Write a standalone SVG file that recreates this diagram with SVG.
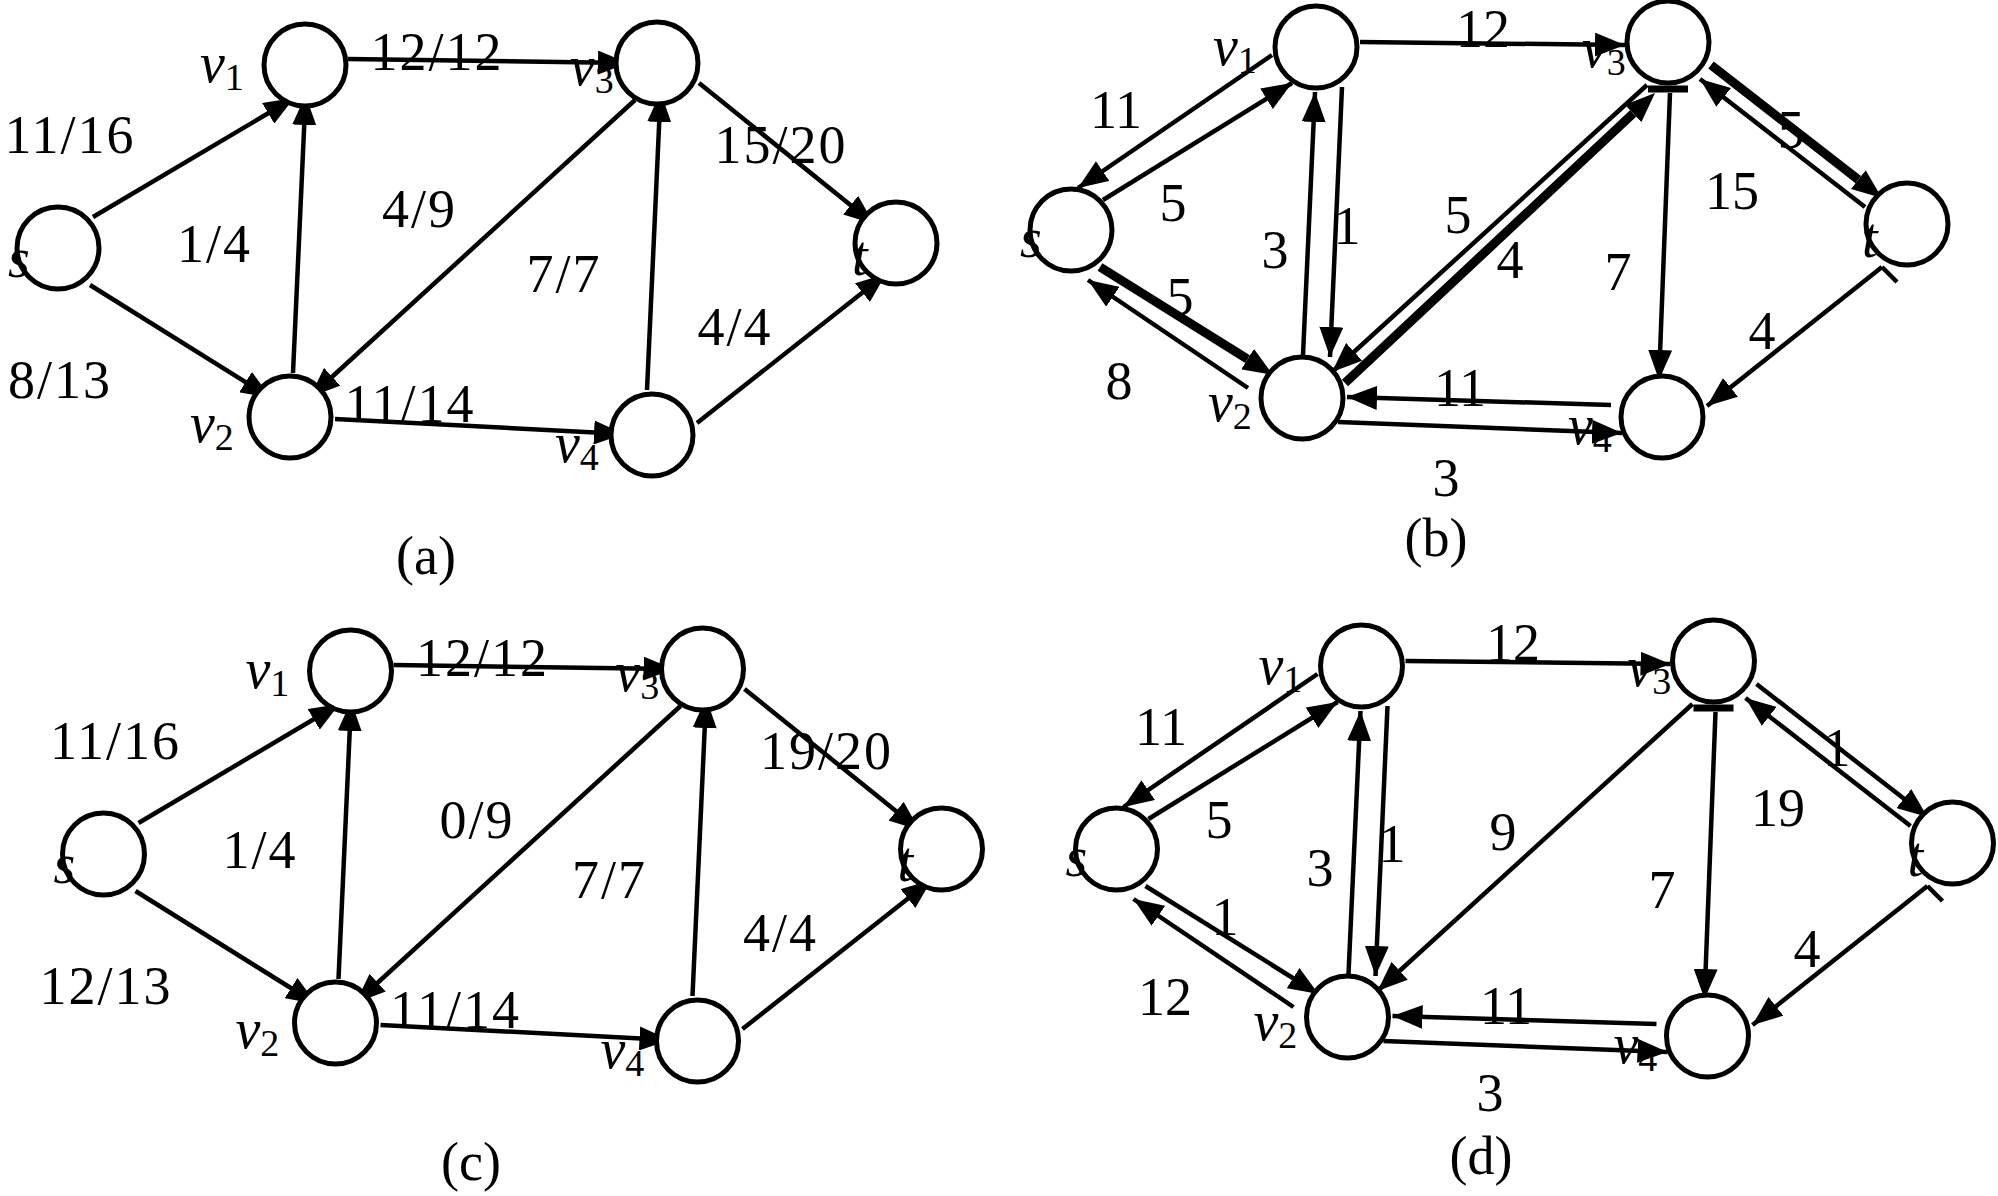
<svg xmlns="http://www.w3.org/2000/svg" width="1998" height="1196" viewBox="0 0 1998 1196">
<style>
.e{fill:none;stroke:#000;stroke-width:4.5;marker-end:url(#ah)}
.th{fill:none;stroke:#000;stroke-width:9;marker-end:url(#ahb)}
.pl{fill:none;stroke:#000;stroke-width:4.5}
.bar{fill:none;stroke:#000;stroke-width:7}
.n{fill:#fff;stroke:#000;stroke-width:5}
.lbl{font-family:'Liberation Serif','Times New Roman',serif;font-size:54px;text-anchor:middle;fill:#000}
.fr{letter-spacing:2px}
.nl{font-family:'Liberation Serif','Times New Roman',serif;font-size:56px;font-style:italic;fill:#000}
.sub{font-size:38px;font-style:normal}
</style>
<defs>
<marker id="ah" markerUnits="userSpaceOnUse" viewBox="0 0 30 24" markerWidth="30" markerHeight="24" refX="30" refY="12" orient="auto"><path d="M0,0 L30,12 L0,24 z" fill="#000"/></marker>
<marker id="ahb" markerUnits="userSpaceOnUse" viewBox="0 0 30 24" markerWidth="30" markerHeight="24" refX="0" refY="12" orient="auto"><path d="M0,0 L30,12 L0,24 z" fill="#000"/></marker>
</defs>
<rect width="1998" height="1196" fill="#fff"/>

<!-- Panel (a) -->
<g id="panel-a">
<g id="a-edge-labels" class="lbl fr">
<text x="437" y="70">12/12</text>
<text x="70" y="153">11/16</text>
<text x="60" y="398">8/13</text>
<text x="214.5" y="262">1/4</text>
<text x="419.5" y="227">4/9</text>
<text x="410" y="422">11/14</text>
<text x="564" y="292">7/7</text>
<text x="781" y="163">15/20</text>
<text x="735" y="345">4/4</text>
</g>
<g id="a-edges">
<path class="e" d="M93,217 L294,98"/>
<path class="e" d="M90,285 L271,398"/>
<path class="e" d="M293,373 L305.6,95"/>
<path class="e" d="M635,100 L310,397"/>
<path class="e" d="M348,59 L628,63"/>
<path class="e" d="M335,419 L624,434"/>
<path class="e" d="M647,390 L660.6,92"/>
<path class="e" d="M699,83 L874,224"/>
<path class="e" d="M697,423 L886,274"/>
</g>
<g id="a-s"><circle class="n" cx="58" cy="248" r="41"/><text class="nl" x="8" y="277">s</text></g>
<g id="a-v1"><circle class="n" cx="305" cy="65" r="41"/><text class="nl" x="200" y="82">v<tspan class="sub" dy="8">1</tspan></text></g>
<g id="a-v2"><circle class="n" cx="290" cy="417" r="41"/><text class="nl" x="190" y="442">v<tspan class="sub" dy="8">2</tspan></text></g>
<g id="a-v3"><circle class="n" cx="657" cy="63" r="41"/><text class="nl" x="570" y="85">v<tspan class="sub" dy="8">3</tspan></text></g>
<g id="a-v4"><circle class="n" cx="652" cy="435" r="41"/><text class="nl" x="555" y="462">v<tspan class="sub" dy="8">4</tspan></text></g>
<g id="a-t"><circle class="n" cx="896" cy="243" r="41"/><text class="nl" x="852" y="275">t</text></g>
<text class="lbl" x="426" y="574">(a)</text>
</g>

<!-- Panel (c) -->
<g id="panel-c" transform="translate(45.5,606)">
<g id="c-edge-labels" class="lbl fr">
<text x="437" y="70">12/12</text>
<text x="70" y="153">11/16</text>
<text x="60.5" y="398">12/13</text>
<text x="214.5" y="262">1/4</text>
<text x="431.5" y="232">0/9</text>
<text x="410" y="422">11/14</text>
<text x="564" y="292">7/7</text>
<text x="781" y="163">19/20</text>
<text x="735" y="345">4/4</text>
</g>
<g id="c-edges">
<path class="e" d="M93,217 L294,98"/>
<path class="e" d="M90,285 L271,398"/>
<path class="e" d="M293,373 L305.6,95"/>
<path class="e" d="M635,100 L310,397"/>
<path class="e" d="M348,59 L628,63"/>
<path class="e" d="M335,419 L624,434"/>
<path class="e" d="M647,390 L660.6,92"/>
<path class="e" d="M699,83 L874,224"/>
<path class="e" d="M697,423 L886,274"/>
</g>
<g id="c-s"><circle class="n" cx="58" cy="248" r="41"/><text class="nl" x="8" y="277">s</text></g>
<g id="c-v1"><circle class="n" cx="305" cy="65" r="41"/><text class="nl" x="200" y="82">v<tspan class="sub" dy="8">1</tspan></text></g>
<g id="c-v2"><circle class="n" cx="290" cy="417" r="41"/><text class="nl" x="190" y="442">v<tspan class="sub" dy="8">2</tspan></text></g>
<g id="c-v3"><circle class="n" cx="657" cy="63" r="41"/><text class="nl" x="570" y="85">v<tspan class="sub" dy="8">3</tspan></text></g>
<g id="c-v4"><circle class="n" cx="652" cy="435" r="41"/><text class="nl" x="555" y="462">v<tspan class="sub" dy="8">4</tspan></text></g>
<g id="c-t"><circle class="n" cx="896" cy="243" r="41"/><text class="nl" x="852" y="275">t</text></g>
<text class="lbl" x="425.5" y="574">(c)</text>
</g>

<!-- Panel (b) -->
<g id="panel-b">
<g id="b-edge-labels" class="lbl">
<text x="1483" y="47">12</text>
<text x="1116" y="128">11</text>
<text x="1173" y="221">5</text>
<text x="1275" y="268">3</text>
<text x="1347" y="244">1</text>
<text x="1458" y="233">5</text>
<text x="1510" y="278">4</text>
<text x="1180" y="315">5</text>
<text x="1119" y="399">8</text>
<text x="1460" y="406">11</text>
<text x="1446" y="496">3</text>
<text x="1618" y="290">7</text>
<text x="1732" y="209">15</text>
<text x="1791" y="148">5</text>
<text x="1762" y="349">4</text>
</g>
<g id="b-edges">
<path class="e" d="M1272,55 L1078,188"/>
<path class="e" d="M1103,200 L1292,83"/>
<path class="e" d="M1248,388 L1088,280"/>
<path class="th" d="M1100,267 L1247.6,359.1"/>
<path class="e" d="M1303,355 L1315,92"/>
<path class="e" d="M1342,87 L1330,357"/>
<path class="e" d="M1647,85 L1332,372"/>
<path class="th" d="M1345,383 L1633.1,113.5"/>
<path class="e" d="M1360,42 L1625,45"/>
<path class="e" d="M1611,405 L1347,397"/>
<path class="e" d="M1338,422 L1622,433"/>
<path class="e" d="M1670,93 L1659,380"/>
<path class="e" d="M1865,207 L1700,79"/>
<path class="th" d="M1711,65 L1858.3,179.6"/>
<path class="e" d="M1882,267 L1707,406"/>
<path class="pl" d="M1882,267 L1897,282"/>
<path class="bar" d="M1648,89 L1688,89"/>
</g>
<g id="b-s"><circle class="n" cx="1071" cy="230" r="41"/><text class="nl" x="1020" y="257">s</text></g>
<g id="b-v1"><circle class="n" cx="1316" cy="47" r="41"/><text class="nl" x="1213" y="65">v<tspan class="sub" dy="8">1</tspan></text></g>
<g id="b-v2"><circle class="n" cx="1302" cy="398" r="41"/><text class="nl" x="1208" y="421">v<tspan class="sub" dy="8">2</tspan></text></g>
<g id="b-v3"><circle class="n" cx="1668" cy="42" r="41"/><text class="nl" x="1582" y="67">v<tspan class="sub" dy="8">3</tspan></text></g>
<g id="b-v4"><circle class="n" cx="1662" cy="417" r="41"/><text class="nl" x="1568" y="444">v<tspan class="sub" dy="8">4</tspan></text></g>
<g id="b-t"><circle class="n" cx="1907" cy="224" r="41"/><text class="nl" x="1862" y="257">t</text></g>
<text class="lbl" x="1436" y="556">(b)</text>
</g>

<!-- Panel (d) -->
<g id="panel-d" transform="translate(45.5,619)">
<g id="d-edge-labels" class="lbl">
<text x="1467.5" y="42">12</text>
<text x="1115.5" y="126">11</text>
<text x="1173.5" y="219">5</text>
<text x="1274.5" y="267">3</text>
<text x="1346.5" y="243">1</text>
<text x="1457.5" y="231">9</text>
<text x="1179.5" y="316">1</text>
<text x="1119.5" y="396">12</text>
<text x="1460.5" y="405">11</text>
<text x="1444.5" y="492">3</text>
<text x="1616.5" y="289">7</text>
<text x="1732.5" y="207">19</text>
<text x="1791.5" y="147">1</text>
<text x="1761.5" y="348">4</text>
</g>
<g id="d-edges">
<path class="e" d="M1272,55 L1078,188"/>
<path class="e" d="M1103,200 L1292,83"/>
<path class="e" d="M1248,388 L1088,280"/>
<path class="e" d="M1100,267 L1273,375"/>
<path class="e" d="M1303,355 L1315,92"/>
<path class="e" d="M1342,87 L1330,357"/>
<path class="e" d="M1647,85 L1332,372"/>
<path class="e" d="M1360,42 L1625,45"/>
<path class="e" d="M1611,405 L1347,397"/>
<path class="e" d="M1338,422 L1622,433"/>
<path class="e" d="M1670,93 L1659,380"/>
<path class="e" d="M1865,207 L1700,79"/>
<path class="e" d="M1711,65 L1882,198"/>
<path class="e" d="M1882,267 L1707,406"/>
<path class="pl" d="M1882,267 L1897,282"/>
<path class="bar" d="M1648,89 L1688,89"/>
</g>
<g id="d-s"><circle class="n" cx="1071" cy="230" r="41"/><text class="nl" x="1020" y="257">s</text></g>
<g id="d-v1"><circle class="n" cx="1316" cy="47" r="41"/><text class="nl" x="1213" y="65">v<tspan class="sub" dy="8">1</tspan></text></g>
<g id="d-v2"><circle class="n" cx="1302" cy="398" r="41"/><text class="nl" x="1208" y="421">v<tspan class="sub" dy="8">2</tspan></text></g>
<g id="d-v3"><circle class="n" cx="1668" cy="42" r="41"/><text class="nl" x="1582" y="67">v<tspan class="sub" dy="8">3</tspan></text></g>
<g id="d-v4"><circle class="n" cx="1662" cy="417" r="41"/><text class="nl" x="1568" y="444">v<tspan class="sub" dy="8">4</tspan></text></g>
<g id="d-t"><circle class="n" cx="1907" cy="224" r="41"/><text class="nl" x="1862" y="257">t</text></g>
<text class="lbl" x="1435.5" y="555">(d)</text>
</g>
</svg>
